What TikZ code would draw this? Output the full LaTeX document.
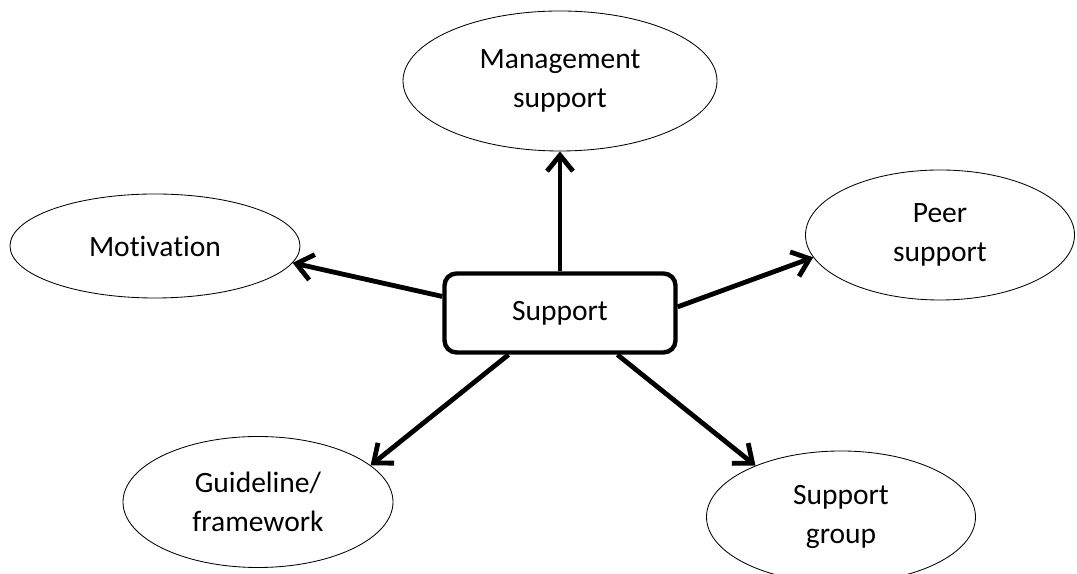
\documentclass[tikz,border=0pt]{standalone}
\usepackage{fontspec}
\setmainfont{Carlito}[Ligatures=NoCommon]
\usetikzlibrary{shapes,arrows.meta,positioning}
\tikzset{
    hub/.style={draw, line width=1.1mm, rounded corners=3mm, minimum width=5.775cm, minimum height=1.975cm, font=\fontsize{21}{28}\selectfont},
    topic/.style={draw, ellipse, line width=0.6pt, align=center, inner sep=0pt, font=\fontsize{21}{28}\selectfont},
    link/.style={line width=1.2mm, -{Straight Barb[length=4mm,width=6.5mm]}},
}

\begin{document}
\begin{tikzpicture}
    \useasboundingbox (0,0) rectangle (26.925,14.35);

    % Center
    \node[hub] (S) at (14.0, 6.525) {Support};

    % Surrounding topics
    \node[topic, minimum width=7.85cm, minimum height=3.5cm] (Mgmt) at (14.0, 12.325) {Management\\support};
    \node[topic, minimum width=7.25cm, minimum height=2.6cm] (Mot) at (3.875, 8.2) {Motivation};
    \node[topic, minimum width=6.725cm, minimum height=3.25cm] (Peer) at (23.5, 8.475) {Peer\\support};
    \node[topic, minimum width=6.75cm, minimum height=3.275cm] (Guide) at (6.45, 1.8) {Guideline/\\framework};
    \node[topic, minimum width=6.725cm, minimum height=3.3cm] (Group) at (21.025, 1.425) {Support\\group};

    % Arrows
    \draw[link] (S.north) -- (Mgmt.south);
    \draw[link] (S.172) -- (Mot.353);
    \draw[link] (S.3) -- (Peer.190);
    \draw[link] (S.219) -- (Guide.18);
    \draw[link] (S.324) -- (Group.149);
\end{tikzpicture}
\end{document}
